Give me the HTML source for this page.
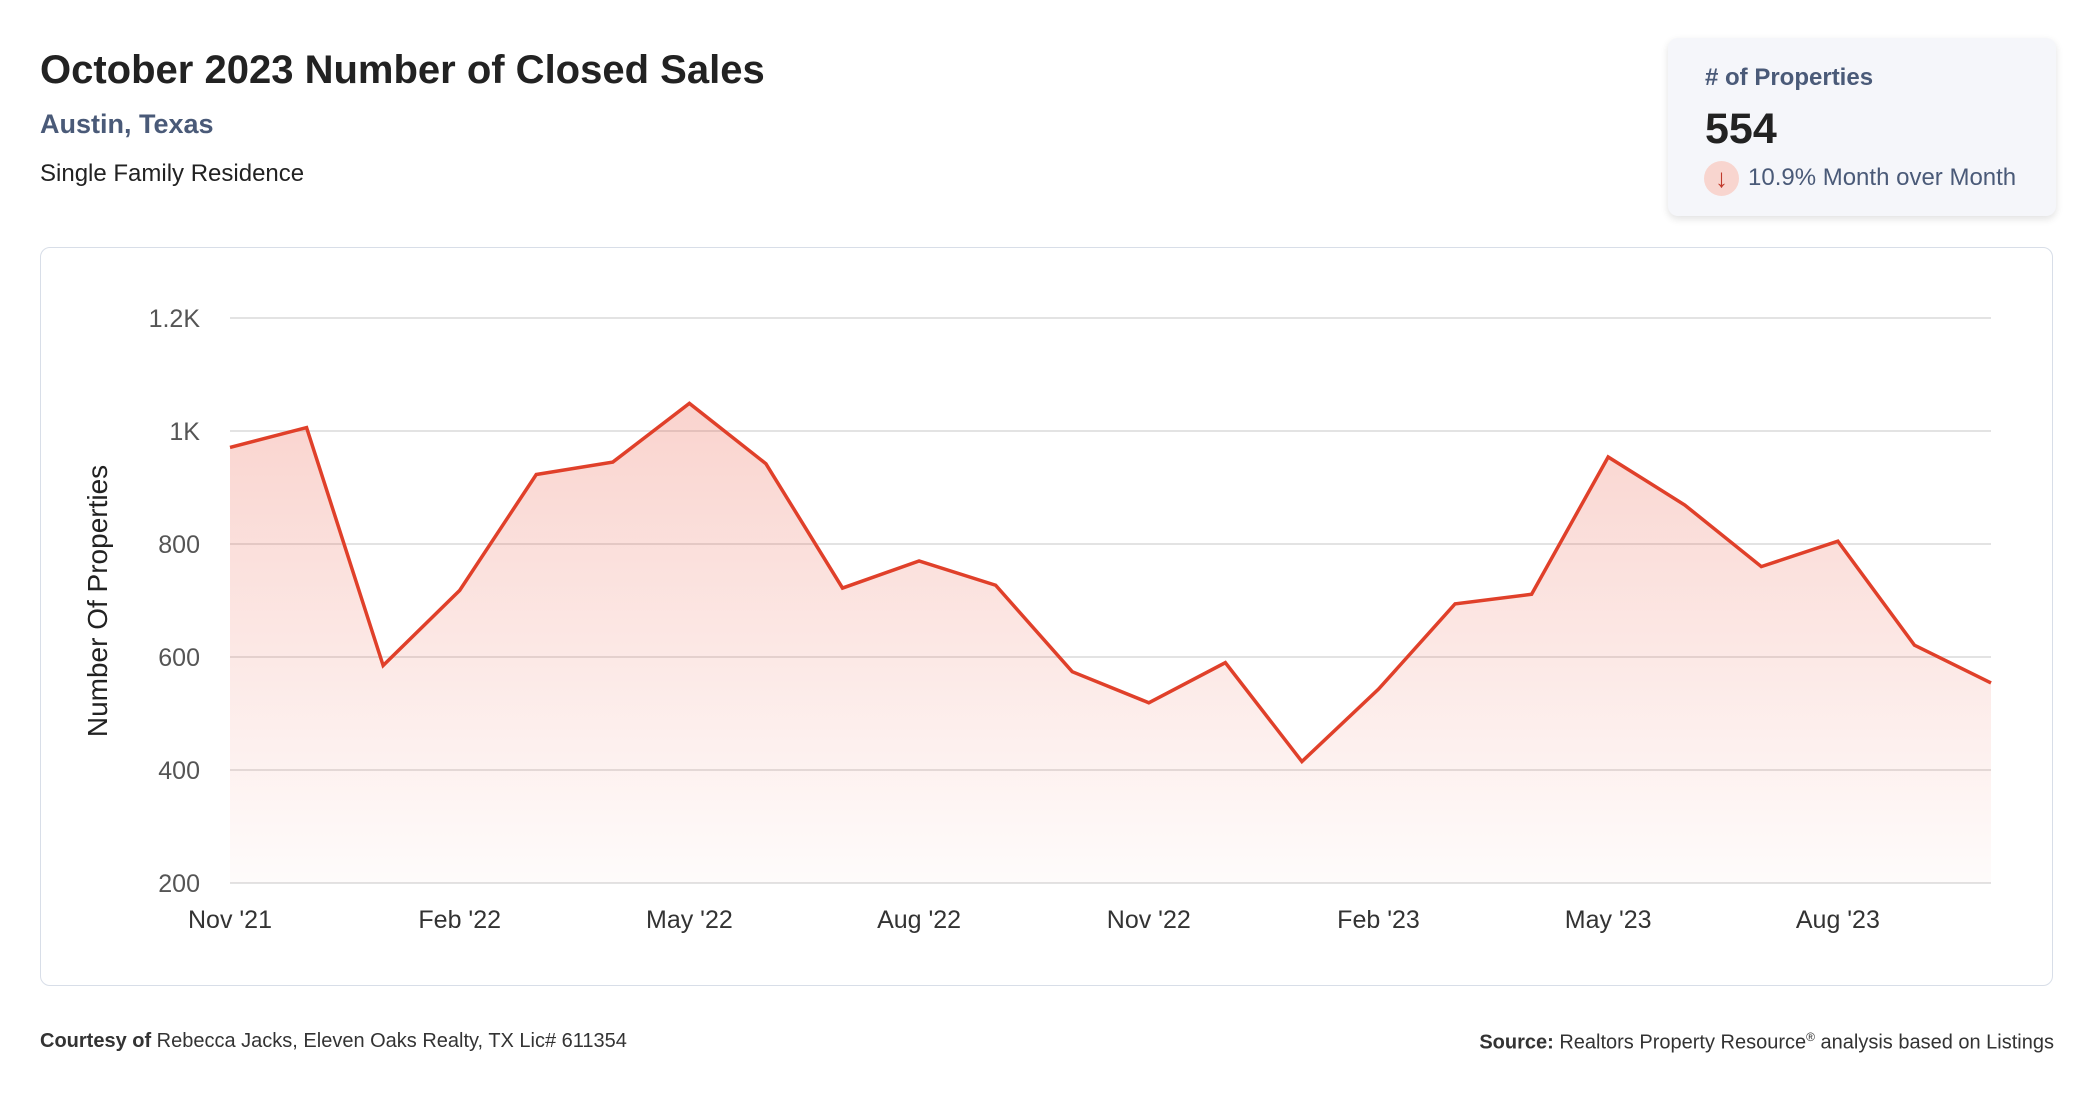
<!DOCTYPE html>
<html><head><meta charset="utf-8"><style>
body{margin:0;width:2096px;height:1100px;background:#fff;font-family:"Liberation Sans",sans-serif;position:relative;overflow:hidden}
.a{position:absolute;white-space:nowrap}
</style></head><body>
<div class="a" style="left:40px;top:48px;font-size:40px;font-weight:bold;color:#222">October 2023 Number of Closed Sales</div>
<div class="a" style="left:40px;top:109px;font-size:27px;font-weight:bold;color:#4a5a78">Austin, Texas</div>
<div class="a" style="left:40px;top:160px;font-size:24px;color:#222">Single Family Residence</div>
<div class="a" style="left:1668px;top:38px;width:388px;height:178px;background:#f5f6fa;border-radius:10px;box-shadow:0 3px 8px rgba(0,0,0,0.12)">
 <div class="a" style="left:37px;top:26px;font-size:24px;font-weight:bold;color:#4a5a78"># of Properties</div>
 <div class="a" style="left:37px;top:67px;font-size:43px;font-weight:bold;color:#222">554</div>
 <div class="a" style="left:36px;top:123px;width:35px;height:35px;border-radius:50%;background:#f8d5cf;color:#c0392b;font-size:26px;text-align:center;line-height:35px">↓</div>
 <div class="a" style="left:80px;top:126px;font-size:24px;color:#4a5a78">10.9% Month over Month</div>
</div>
<div class="a" style="left:40px;top:247px;width:2011px;height:737px;border:1px solid #d8dee8;border-radius:10px"></div>
<svg class="a" style="left:0;top:0" width="2096" height="1100">
<defs><linearGradient id="g" x1="0" y1="0" x2="0" y2="1"><stop offset="0" stop-color="#e8503a" stop-opacity="0.25"/><stop offset="1" stop-color="#e8503a" stop-opacity="0.02"/></linearGradient></defs>
<g id="grid"></g><g id="area"></g><g id="labels"></g>
<text transform="translate(107,601) rotate(-90)" text-anchor="middle" font-size="28" fill="#222" font-family="Liberation Sans">Number Of Properties</text>
</svg>
<div class="a" style="left:40px;top:1030px;font-size:20px;color:#333"><b>Courtesy of</b> Rebecca Jacks, Eleven Oaks Realty, TX Lic# 611354</div>
<div class="a" style="right:42px;top:1030px;font-size:20px;color:#333"><b>Source:</b> Realtors Property Resource<sup style="font-size:12px">®</sup> analysis based on Listings</div>
<script>
const categories=["Nov '21","Dec '21","Jan '22","Feb '22","Mar '22","Apr '22","May '22","Jun '22","Jul '22","Aug '22","Sep '22","Oct '22","Nov '22","Dec '22","Jan '23","Feb '23","Mar '23","Apr '23","May '23","Jun '23","Jul '23","Aug '23","Sep '23","Oct '23"];
const values=[971,1006,585,718,923,945,1049,942,722,770,727,574,519,590,415,543,694,711,954,869,760,805,621,554];
const yTicks=[200,400,600,800,1000,1200];
const yTickLabels=["200","400","600","800","1K","1.2K"];
const xTickIdx=[0,3,6,9,12,15,18,21];
const NS="http://www.w3.org/2000/svg";
const X0=230,X1=1991,Y0=883,Y1=318,vmin=200,vmax=1200;
const x=i=>X0+(X1-X0)*i/(categories.length-1);
const y=v=>Y0-(Y0-Y1)*(v-vmin)/(vmax-vmin);
function mk(t,a,p){const e=document.createElementNS(NS,t);for(const k in a)e.setAttribute(k,a[k]);p.appendChild(e);return e;}
const grid=document.getElementById('grid'),area=document.getElementById('area'),lab=document.getElementById('labels');
yTicks.forEach((v,i)=>{
 const l=mk('line',{x1:X0,x2:X1,y1:y(v),y2:y(v),stroke:'#e3e3e3','stroke-width':2},grid);
 
 
 const t=mk('text',{x:200,y:y(v)+9,'text-anchor':'end','font-size':25,fill:'#555','font-family':'Liberation Sans'},lab);
 t.textContent=yTickLabels[i];
 
 
});
xTickIdx.forEach(i=>{
 const t=mk('text',{x:x(i),y:928,'text-anchor':'middle','font-size':25,fill:'#333','font-family':'Liberation Sans'},lab);
 t.textContent=categories[i];
 
 
});
const pts=values.map((v,i)=>x(i)+','+y(v));
const ar=mk('polygon',{points:X0+','+Y0+' '+pts.join(' ')+' '+X1+','+Y0,fill:'url(#g)'},area);


const ln=mk('polyline',{points:pts.join(' '),fill:'none',stroke:'#e0402a','stroke-width':3.5,'stroke-linejoin':'miter'},area);


</script>
</body></html>
